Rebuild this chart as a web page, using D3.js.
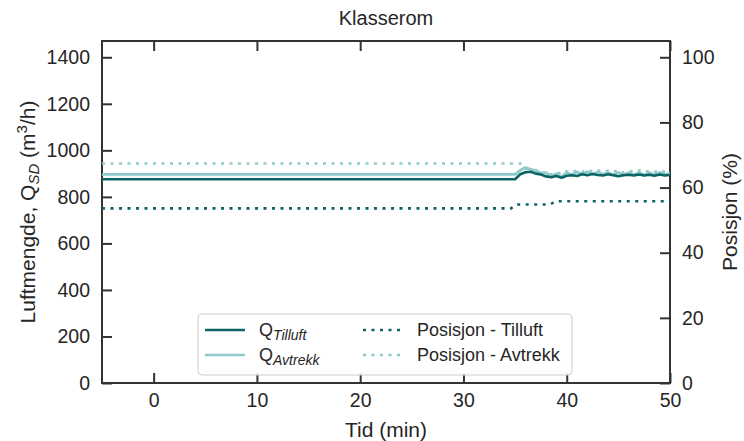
<!DOCTYPE html>
<html><head><meta charset="utf-8">
<script src="https://cdn.jsdelivr.net/npm/d3@7"></script>
<style>body{margin:0;background:#fff}svg{display:block;font-family:"Liberation Sans",Arial,sans-serif}</style>
</head><body><svg id="c" width="744" height="441"></svg>
<script>
const xTicks = [0, 10, 20, 30, 40, 50];
const yLeftTicks = [0, 200, 400, 600, 800, 1000, 1200, 1400];
const yRightTicks = [0, 20, 40, 60, 80, 100];

const timeQ = [-5, 35, 35.5, 36, 36.5, 37, 37.5, 38, 38.5, 39, 39.5, 40, 40.5, 41, 41.5, 42, 42.5, 43, 43.5, 44, 44.5, 45, 45.5, 46, 46.5, 47, 47.5, 48, 48.5, 49, 49.5, 50];
const qTilluft = [876, 876, 897, 906, 908, 900, 896, 888, 884, 890, 882, 891, 893, 890, 897, 893, 898, 894, 892, 897, 893, 889, 893, 895, 892, 896, 892, 895, 891, 896, 892, 894];
const qAvtrekk = [897, 897, 914, 926, 918, 914, 902, 904, 889, 900, 887, 904, 895, 907, 897, 908, 898, 907, 897, 905, 895, 905, 894, 904, 895, 905, 894, 904, 895, 905, 895, 902];

const timePosT = [-5, 34.6, 35.1, 38.4, 38.9, 50];
const posTilluft = [53.6, 53.6, 54.8, 54.8, 55.8, 55.8];

const timePosA = [-5, 35.5, 36, 36.5, 37, 37.5, 38, 38.5, 39, 39.5, 40, 40.5, 41, 41.5, 42, 42.5, 43, 43.5, 44, 44.5, 45, 45.5, 46, 46.5, 47, 47.5, 48, 48.5, 49, 49.5, 50];
const posAvtrekk = [67.4, 67.4, 66.0, 65.5, 65.2, 64.6, 64.4, 64.0, 64.8, 64.2, 65.0, 64.6, 65.3, 64.8, 65.4, 64.9, 65.3, 64.7, 65.2, 64.8, 65.3, 64.6, 65.2, 64.8, 65.3, 64.7, 65.2, 64.8, 65.3, 64.8, 65.1];

const colDark = "#0d6466", colLight = "#8fcaca", axisCol = "#333333", textCol = "#262626";

const svg = d3.select("#c");
const m = {l: 102, r: 670, t: 41, b: 383};
const x = d3.scaleLinear().domain([-5, 50]).range([m.l, m.r]);
const yL = d3.scaleLinear().domain([0, 1470]).range([m.b, m.t]);
const yR = d3.scaleLinear().domain([0, 105]).range([m.b, m.t]);

const tickFont = 19.5;
const fmt = d3.format("d");
function styleAxis(g){
  g.select(".domain").remove();
  g.selectAll(".tick line").attr("stroke", axisCol).attr("stroke-width", 2);
  g.selectAll(".tick text").attr("fill", textCol).style("font-size", tickFont + "px").style("font-family", '"Liberation Sans",Arial,sans-serif');
}
svg.append("g").attr("transform", `translate(0,${m.b})`)
  .call(d3.axisBottom(x).tickValues(xTicks).tickFormat(fmt).tickSizeInner(-10).tickSizeOuter(0).tickPadding(10))
  .call(styleAxis);
svg.append("g").attr("transform", `translate(0,${m.t})`)
  .call(d3.axisTop(x).tickValues(xTicks).tickSizeInner(-10).tickSizeOuter(0).tickFormat(""))
  .call(styleAxis);
svg.append("g").attr("transform", `translate(${m.l},0)`)
  .call(d3.axisLeft(yL).tickValues(yLeftTicks).tickFormat(fmt).tickSizeInner(-10).tickSizeOuter(0).tickPadding(12))
  .call(styleAxis);
svg.append("g").attr("transform", `translate(${m.r},0)`)
  .call(d3.axisRight(yR).tickValues(yRightTicks).tickFormat(fmt).tickSizeInner(-10).tickSizeOuter(0).tickPadding(12))
  .call(styleAxis);

svg.append("rect").attr("x", m.l).attr("y", m.t).attr("width", m.r - m.l).attr("height", m.b - m.t)
  .attr("fill", "none").attr("stroke", axisCol).attr("stroke-width", 2);

svg.append("clipPath").attr("id", "cp").append("rect")
  .attr("x", m.l).attr("y", m.t).attr("width", m.r - m.l).attr("height", m.b - m.t);
const plot = svg.append("g").attr("clip-path", "url(#cp)");

const lineL = (ts, vs) => d3.line().x((d, i) => x(ts[i])).y(d => yL(d))(vs);
const lineR = (ts, vs) => d3.line().x((d, i) => x(ts[i])).y(d => yR(d))(vs);

plot.append("path").attr("d", lineR(timePosT, posTilluft)).attr("fill", "none")
  .attr("stroke", colDark).attr("stroke-width", 2.6).attr("stroke-dasharray", "3,5.5");
plot.append("path").attr("d", lineR(timePosA, posAvtrekk)).attr("fill", "none")
  .attr("stroke", colLight).attr("stroke-width", 2.6).attr("stroke-dasharray", "3,5.5");
plot.append("path").attr("d", lineL(timeQ, qAvtrekk)).attr("fill", "none")
  .attr("stroke", colLight).attr("stroke-width", 2.8).attr("stroke-linejoin", "round");
plot.append("path").attr("d", lineL(timeQ, qTilluft)).attr("fill", "none")
  .attr("stroke", colDark).attr("stroke-width", 2.6).attr("stroke-linejoin", "round");

svg.append("text").attr("x", (m.l + m.r) / 2).attr("y", 25).attr("text-anchor", "middle")
  .attr("fill", textCol).style("font-size", "20px").text("Klasserom");
svg.append("text").attr("x", (m.l + m.r) / 2).attr("y", 437).attr("text-anchor", "middle")
  .attr("fill", textCol).style("font-size", "21px").text("Tid (min)");
const yl = svg.append("text").attr("transform", `translate(35,${(m.t + m.b) / 2}) rotate(-90)`)
  .attr("text-anchor", "middle").attr("fill", textCol).style("font-size", "21px");
yl.append("tspan").text("Luftmengde, Q");
yl.append("tspan").attr("dy", 4).style("font-size", "15px").style("font-style", "italic").text("SD");
yl.append("tspan").attr("dy", -4).text(" (m");
yl.append("tspan").attr("dy", -8).style("font-size", "15px").text("3");
yl.append("tspan").attr("dy", 8).text("/h)");
svg.append("text").attr("transform", `translate(737,${(m.t + m.b) / 2}) rotate(-90)`)
  .attr("text-anchor", "middle").attr("fill", textCol).style("font-size", "21px").text("Posisjon (%)");

const lg = svg.append("g");
lg.append("rect").attr("x", 198).attr("y", 314).attr("width", 374).attr("height", 61).attr("rx", 4)
  .attr("fill", "#fff").attr("fill-opacity", 0.85).attr("stroke", "#cccccc").attr("stroke-width", 1);
const legItems = [
  {col: colDark, dash: null, main: "Q", sub: "Tilluft", lx: 205, ly: 330},
  {col: colLight, dash: null, main: "Q", sub: "Avtrekk", lx: 205, ly: 355},
  {col: colDark, dash: "3,5.5", main: "Posisjon - Tilluft", sub: null, lx: 363, ly: 330},
  {col: colLight, dash: "3,5.5", main: "Posisjon - Avtrekk", sub: null, lx: 363, ly: 355}
];
legItems.forEach(it => {
  lg.append("line").attr("x1", it.lx).attr("x2", it.lx + 40).attr("y1", it.ly).attr("y2", it.ly)
    .attr("stroke", it.col).attr("stroke-width", 2.6).attr("stroke-dasharray", it.dash);
  const t = lg.append("text").attr("x", it.lx + 54).attr("y", it.ly + 6).attr("fill", textCol).style("font-size", "18px");
  t.append("tspan").text(it.main);
  if (it.sub) t.append("tspan").attr("dy", 4).style("font-size", "14px").style("font-style", "italic").text(it.sub);
});
</script></body></html>
